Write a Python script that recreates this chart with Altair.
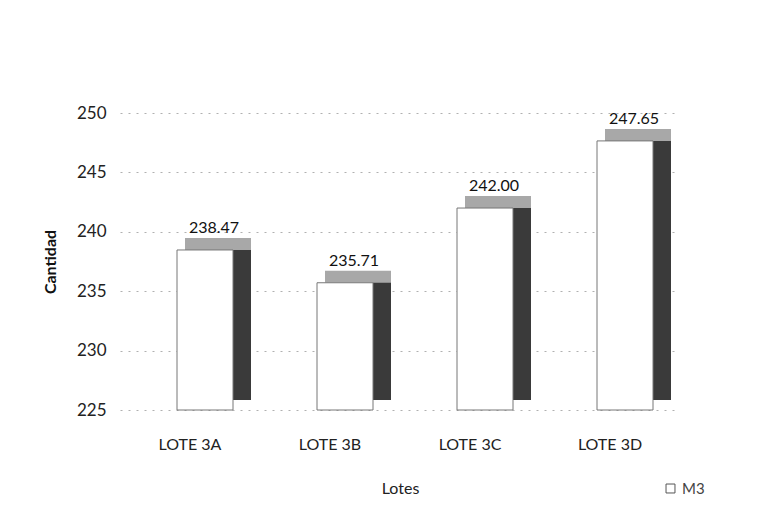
import altair as alt
import pandas as pd

lotes = ["LOTE 3A", "LOTE 3B", "LOTE 3C", "LOTE 3D"]
valores = [238.47, 235.71, 242.00, 247.65]
etiquetas = ["238.47", "235.71", "242.00", "247.65"]
serie = ["M3", "M3", "M3", "M3"]
y_ticks = [225, 230, 235, 240, 245, 250]

df = pd.DataFrame({"Lotes": lotes, "Cantidad": valores, "label": etiquetas,
                   "serie": serie, "base": [225] * 4})

FONT = "Lato, Open Sans, sans-serif"

x = alt.X("Lotes:N", sort=lotes, title="Lotes",
          scale=alt.Scale(paddingInner=0.6, paddingOuter=0.3),
          axis=alt.Axis(labelAngle=0, domain=False, ticks=False, labelPadding=26,
                        titlePadding=28, labelFontSize=16, titleFontSize=16,
                        labelFont=FONT, titleFont=FONT, titleFontWeight="normal",
                        labelColor="#222", titleColor="#222"))
y = alt.Y("Cantidad:Q", title="Cantidad",
          scale=alt.Scale(domain=[225, 250], nice=False, clamp=True),
          axis=alt.Axis(values=y_ticks, domain=False, ticks=False, labelPadding=14,
                        titlePadding=18, labelFontSize=17, titleFontSize=16,
                        labelFont=FONT, titleFont=FONT, titleFontWeight="bold",
                        labelColor="#222", titleColor="#111",
                        grid=True, gridDash=[2, 6], gridColor="#b0b0b0"))

base = alt.Chart(df)

side = base.mark_bar(width=18, xOffset=52, yOffset=-10, y2Offset=-10,
                     color="#3a3a3a").encode(x=x, y=y, y2=alt.Y2("base:Q"))
top = base.mark_bar(width=66, xOffset=28, yOffset=-12, y2Offset=0,
                    color="#a8a8a8").encode(x=x, y=y, y2=alt.Y2("Cantidad:Q"))
front = base.mark_bar(width=56, xOffset=15, stroke="#777777", strokeWidth=1,
                      fill="white").encode(
    x=x, y=y, y2=alt.Y2("base:Q"),
    color=alt.Color("serie:N", scale=alt.Scale(domain=["M3"], range=["white"]),
                    legend=alt.Legend(title=None, orient="none", legendX=543, legendY=368,
                                      symbolType="square", symbolStrokeColor="#555",
                                      symbolStrokeWidth=1, symbolSize=80,
                                      labelFont=FONT, labelFontSize=15, labelColor="#444")))
text = base.mark_text(dx=24, dy=-22, fontSize=16, font=FONT, color="#111").encode(
    x=x, y=y, text="label:N")

chart = alt.layer(side, top, front, text).properties(
    width=560, height=297,
    padding={"left": 120, "top": 113, "right": 77, "bottom": 104},
    autosize=alt.AutoSizeParams(type="none"),
    background="white",
).configure_view(stroke=None)

chart.save("out.html", embed_options={"renderer": "svg", "actions": False})
